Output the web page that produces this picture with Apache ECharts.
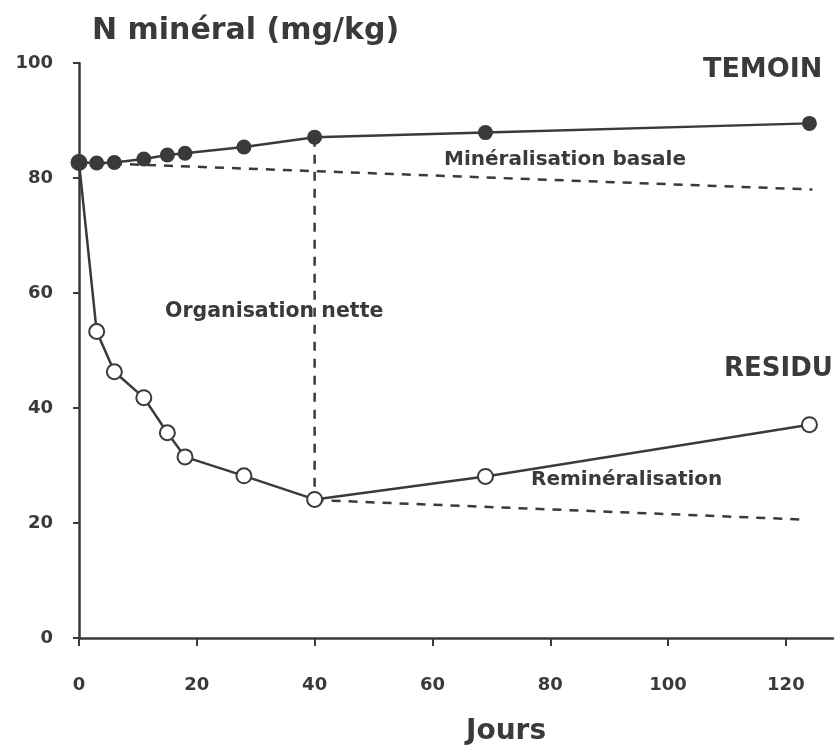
<!DOCTYPE html>
<html>
<head>
<meta charset="utf-8">
<script src="https://cdn.jsdelivr.net/npm/echarts@6/dist/echarts.min.js"></script>
<style>
html,body{margin:0;padding:0;background:#fff;}
#chart{width:840px;height:747px;}
</style>
</head>
<body>
<div id="chart"></div>
<script>
// Data
const days = [0, 3, 6, 11, 15, 18, 28, 40, 69, 124];
const temoin = [82.7, 82.6, 82.7, 83.3, 84.0, 84.3, 85.4, 87.1, 87.9, 89.5];
const residu = [82.7, 53.3, 46.3, 41.8, 35.7, 31.5, 28.2, 24.1, 28.1, 37.1];
const basalLine = [[0, 82.7], [124.5, 78.0]];
const organisationLine = [[40, 87.0], [40, 24.0]];
const remineralisationLine = [[40, 24.0], [123, 20.6]];
const xTicks = [0, 20, 40, 60, 80, 100, 120];
const yTicks = [0, 20, 40, 60, 80, 100];

const ink = '#3a3a3a';
const font = 'DejaVu Sans';

const chart = echarts.init(document.getElementById('chart'), null, {renderer: 'canvas'});

const pairs = (xs, ys) => xs.map((x, i) => [x, ys[i]]);

const dashed = (data) => ({
  type: 'line', data: data, symbol: 'none', silent: true, z: 1,
  lineStyle: {color: ink, width: 2.5, type: [9, 8]}
});

chart.setOption({
  animation: false,
  backgroundColor: '#fff',
  grid: {left: 79, top: 63, bottom: 109, right: 7},
  xAxis: {
    type: 'value', min: 0, max: 128,
    axisLine: {show: true, lineStyle: {color: ink, width: 2.5}},
    axisTick: {show: true, customValues: xTicks, length: 8, lineStyle: {color: ink, width: 2}},
    axisLabel: {customValues: xTicks, margin: 38, color: '#3a3a3a', fontSize: 18, fontWeight: 'bold', fontFamily: font},
    splitLine: {show: false}
  },
  yAxis: {
    type: 'value', min: 0, max: 100,
    axisLine: {show: true, lineStyle: {color: ink, width: 2.5}},
    axisTick: {show: true, customValues: yTicks, length: 6, lineStyle: {color: ink, width: 2}},
    axisLabel: {customValues: yTicks, margin: 26, color: '#3a3a3a', fontSize: 18, fontWeight: 'bold', fontFamily: font},
    splitLine: {show: false}
  },
  series: [
    dashed(basalLine),
    dashed(organisationLine),
    dashed(remineralisationLine),
    {
      name: 'RESIDU', type: 'line', data: pairs(days, residu), z: 2,
      symbol: 'emptyCircle', symbolSize: 15,
      lineStyle: {color: ink, width: 2.5},
      itemStyle: {color: ink, borderColor: ink, borderWidth: 3}
    },
    {
      name: 'TEMOIN', type: 'line', data: pairs(days, temoin), z: 3,
      symbol: 'circle', symbolSize: 15,
      lineStyle: {color: ink, width: 2.5},
      itemStyle: {color: ink}
    }
  ],
  graphic: [
    {type: 'text', left: 92, top: 16, style: {text: 'N minéral (mg/kg)', fill: '#3a3a3a', font: 'bold 30px "DejaVu Sans"'}},
    {type: 'text', left: 703, top: 56, style: {text: 'TEMOIN', fill: '#3a3a3a', font: 'bold 27px "DejaVu Sans"'}},
    {type: 'text', left: 724, top: 356, style: {text: 'RESIDU', fill: '#3a3a3a', font: 'bold 26px "DejaVu Sans"'}},
    {type: 'text', left: 444, top: 150, style: {text: 'Minéralisation basale', fill: '#3a3a3a', font: 'bold 20px "DejaVu Sans"'}},
    {type: 'text', left: 165, top: 301, style: {text: 'Organisation nette', fill: '#3a3a3a', font: 'bold 20.5px "DejaVu Sans"'}},
    {type: 'text', left: 531, top: 470, style: {text: 'Reminéralisation', fill: '#3a3a3a', font: 'bold 20px "DejaVu Sans"'}},
    {type: 'text', left: 466, top: 718, style: {text: 'Jours', fill: '#3a3a3a', font: 'bold 28px "DejaVu Sans"'}}
  ]
});
</script>
</body>
</html>
